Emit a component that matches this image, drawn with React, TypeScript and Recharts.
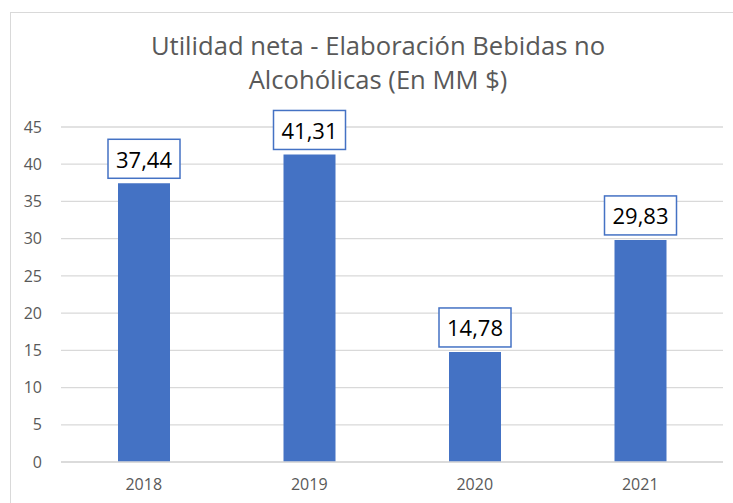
import React from "react";
import { BarChart, Bar, XAxis, YAxis, CartesianGrid, LabelList } from "recharts";

const years = ["2018", "2019", "2020", "2021"];
const utilidad = [37.44, 41.31, 14.78, 29.83];
const yTicks = [0, 5, 10, 15, 20, 25, 30, 35, 40, 45];
const titleLines = ["Utilidad neta - Elaboración Bebidas no", "Alcohólicas (En MM $)"];

const data = years.map((y, i) => ({ year: y, value: utilidad[i] }));

const FONT = "'Open Sans', sans-serif";

const BoxLabel = (props: any) => {
  const { x, y, width, value } = props;
  const cx = x + width / 2;
  const bw = 72;
  const bh = 39;
  const top = y - 5 - bh;
  return (
    <g>
      <rect x={cx - bw / 2} y={top} width={bw} height={bh} fill="#ffffff" stroke="#4472C4" strokeWidth={1.5} />
      <text x={cx} y={top + 28.5} textAnchor="middle" fontFamily={FONT} fontSize={22} fill="#000000">
        {Number(value).toFixed(2).replace(".", ",")}
      </text>
    </g>
  );
};

export default function App() {
  return (
    <div style={{ position: "absolute", left: 0, top: 0, width: 733, height: 503, overflow: "hidden", background: "#fff" }}>
      <div style={{ position: "absolute", left: 10, top: 12, width: 740, height: 510, border: "1px solid #d9d9d9" }} />
      <div style={{ position: "absolute", left: 0, top: 0 }}>
        <BarChart width={733} height={503} data={data} margin={{ top: 127, right: 10, bottom: 11, left: 0 }} barCategoryGap={0}>
          <CartesianGrid vertical={false} stroke="#d9d9d9" strokeWidth={1.3} />
          <XAxis
            dataKey="year"
            axisLine={{ stroke: "#d9d9d9", strokeWidth: 1.3 }}
            tickLine={false}
            tickSize={0}
            tickMargin={17}
            height={30}
            tick={{ fill: "#595959", fontSize: 16, fontFamily: FONT }}
          />
          <YAxis
            domain={[0, 45]}
            ticks={yTicks}
            axisLine={false}
            tickLine={false}
            tickSize={0}
            tickMargin={19}
            width={61}
            tick={{ fill: "#595959", fontSize: 16, fontFamily: FONT }}
          />
          <Bar dataKey="value" fill="#4472C4" barSize={52} isAnimationActive={false}>
            <LabelList dataKey="value" content={BoxLabel} />
          </Bar>
        </BarChart>
      </div>
      <svg style={{ position: "absolute", left: 0, top: 0 }} width={733} height={120}>
        <text x={378} y={55} textAnchor="middle" fontFamily={FONT} fontSize={25.6} fill="#595959">
          {titleLines[0]}
        </text>
        <text x={378} y={89} textAnchor="middle" fontFamily={FONT} fontSize={25.6} fill="#595959">
          {titleLines[1]}
        </text>
      </svg>
    </div>
  );
}
